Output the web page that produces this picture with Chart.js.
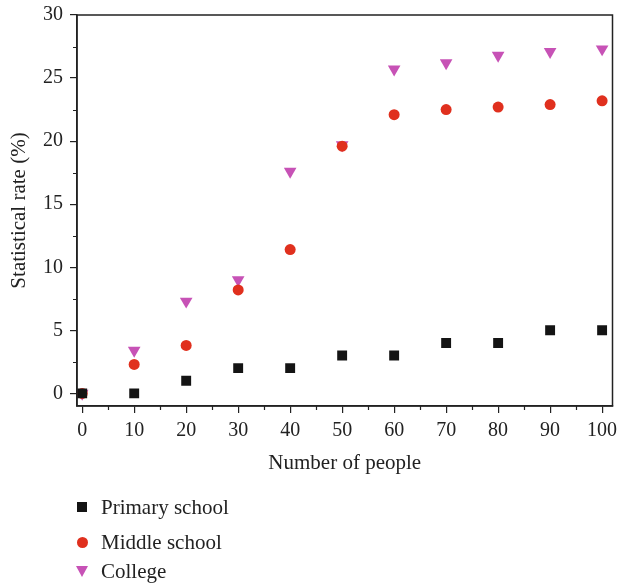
<!DOCTYPE html>
<html><head><meta charset="utf-8">
<script src="https://cdn.jsdelivr.net/npm/chart.js@4/dist/chart.umd.min.js"></script>
<style>
html,body{margin:0;padding:0;background:#fff;}
#wrap{position:relative;width:617px;height:586px;overflow:hidden;}
canvas{position:absolute;left:0;top:0;}
.legtxt{position:absolute;left:101px;height:24px;line-height:24px;font-family:"Liberation Serif","DejaVu Serif",serif;font-size:21px;color:#222;white-space:nowrap;}
.mk{position:absolute;}
</style></head>
<body><div id="wrap"><canvas id="c" width="617" height="586"></canvas><div id="legend"></div></div>
<script>
const people = [0,10,20,30,40,50,60,70,80,90,100];
const primarySchool = [0,0,1,2,2,3,3,4,4,5,5];
const middleSchool = [0,2.3,3.8,8.2,11.4,19.6,22.1,22.5,22.7,22.9,23.2];
const college = [0,3.4,7.3,9.0,17.6,19.7,25.7,26.2,26.8,27.1,27.3];
const seriesNames = ["Primary school","Middle school","College"];
const yTicks = [0,5,10,15,20,25,30];
const xTicks = [0,10,20,30,40,50,60,70,80,90,100];
const yMinor = [2.5,7.5,12.5,17.5,22.5,27.5];
const xMinor = [5,15,25,35,45,55,65,75,85,95];

const colors = ["#141414","#e0301e","#c752b6"];
const FONT = '"Liberation Serif","DejaVu Serif",serif';

function pts(vals){return people.map((x,i)=>({x:x,y:vals[i]}));}

const framePlugin = {
  id:'frame',
  afterDraw(chart){
    const {ctx,chartArea:a,scales} = chart;
    ctx.save();
    ctx.strokeStyle='#222';ctx.lineWidth=1.5;
    ctx.strokeRect(a.left,a.top,a.right-a.left,a.bottom-a.top);
    ctx.lineWidth=1.2;
    ctx.beginPath();
    yMinor.forEach(v=>{const y=Math.round(scales.y.getPixelForValue(v))+0.5;ctx.moveTo(a.left,y);ctx.lineTo(a.left-4,y);});
    xMinor.forEach(v=>{const x=Math.round(scales.x.getPixelForValue(v))+0.5;ctx.moveTo(x,a.bottom);ctx.lineTo(x,a.bottom+4);});
    ctx.stroke();
    ctx.restore();
  }
};

const chart = new Chart(document.getElementById('c'),{
  type:'scatter',
  data:{datasets:[
    {label:seriesNames[0],data:pts(primarySchool),pointStyle:'rect',pointRadius:7,backgroundColor:colors[0],borderColor:colors[0],borderWidth:0},
    {label:seriesNames[1],data:pts(middleSchool),pointStyle:'circle',pointRadius:5.5,backgroundColor:colors[1],borderColor:colors[1],borderWidth:0},
    {label:seriesNames[2],data:pts(college),pointStyle:'triangle',rotation:180,pointRadius:7.3,backgroundColor:colors[2],borderColor:colors[2],borderWidth:0}
  ]},
  options:{
    responsive:false,animation:false,
    layout:{autoPadding:false,padding:{top:15,right:4.5,bottom:106,left:0}},
    plugins:{legend:{display:false},tooltip:{enabled:false}},
    scales:{
      x:{type:'linear',min:-1,max:102,
        afterBuildTicks(s){s.ticks=xTicks.map(v=>({value:v}));},
        afterFit(s){s.height=74;s.paddingLeft=0;s.paddingRight=0;},
        grid:{drawOnChartArea:false,tickLength:7,color:'#222',lineWidth:1.2},
        border:{color:'#222',width:1.5},
        ticks:{color:'#222',font:{family:FONT,size:20},padding:6,maxRotation:0,autoSkip:false},
        title:{display:true,text:'Number of people',color:'#222',font:{family:FONT,size:21},padding:{top:1}}
      },
      y:{type:'linear',min:-1,max:30,
        afterBuildTicks(s){s.ticks=yTicks.map(v=>({value:v}));},
        afterFit(s){s.width=77;s.paddingTop=0;s.paddingBottom=0;},
        grid:{drawOnChartArea:false,tickLength:7,color:'#222',lineWidth:1.2},
        border:{color:'#222',width:1.5},
        ticks:{color:'#222',font:{family:FONT,size:20},padding:7},
        title:{display:true,text:'Statistical rate (%)',color:'#222',font:{family:FONT,size:21},padding:{top:7,bottom:4}}
      }
    }
  },
  plugins:[framePlugin]
});

// HTML legend built from datasets
const legCenters=[507,542,571];
const L=document.getElementById('legend');
chart.data.datasets.forEach((d,i)=>{
  const c=legCenters[i];
  const mk=document.createElement('div');mk.className='mk';
  if(i===0){Object.assign(mk.style,{left:'77px',top:(c-5)+'px',width:'10px',height:'10px',background:colors[0]});}
  else if(i===1){Object.assign(mk.style,{left:'76.5px',top:(c-5.5)+'px',width:'11px',height:'11px',borderRadius:'50%',background:colors[1]});}
  else {Object.assign(mk.style,{left:'75.5px',top:(c-5)+'px',width:'0',height:'0',borderLeft:'6.5px solid transparent',borderRight:'6.5px solid transparent',borderTop:'11px solid '+colors[2]});}
  L.appendChild(mk);
  const t=document.createElement('div');t.className='legtxt';t.style.top=(c-12)+'px';t.textContent=d.label;
  L.appendChild(t);
});
</script></body></html>
